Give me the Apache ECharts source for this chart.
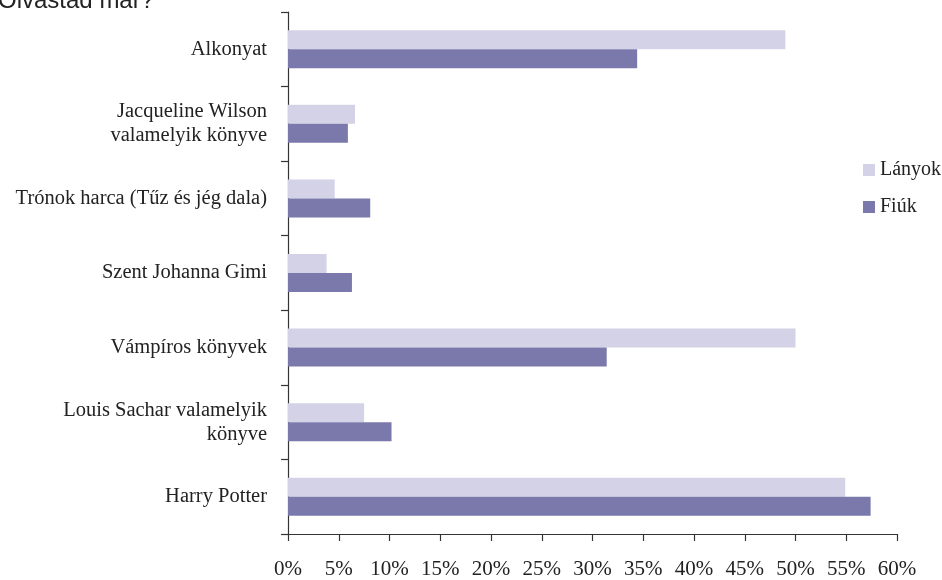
<!DOCTYPE html>
<html>
<head>
<meta charset="utf-8">
<script src="https://cdn.jsdelivr.net/npm/echarts@6/dist/echarts.min.js"></script>
<style>
html,body{margin:0;padding:0;background:#fff;}
#chart{width:942px;height:580px;}
</style>
</head>
<body>
<div id="chart"></div>
<script>
// Categories, top to bottom
const categories = [
  'Alkonyat',
  'Jacqueline Wilson\nvalamelyik könyve',
  'Trónok harca (Tűz és jég dala)',
  'Szent Johanna Gimi',
  'Vámpíros könyvek',
  'Louis Sachar valamelyik\nkönyve',
  'Harry Potter'
];
const seriesNames = ['Lányok', 'Fiúk'];
const lanyok = [49.0, 6.6, 4.6, 3.8, 50.0, 7.5, 54.9];
const fiuk = [34.4, 5.9, 8.1, 6.3, 31.4, 10.2, 57.4];
const xTicks = { min: 0, max: 60, interval: 5 };
const titleText = 'Olvastad már?';

const serif = '"Liberation Serif", "DejaVu Serif", serif';
const chart = echarts.init(document.getElementById('chart'), null, { renderer: 'canvas' });
chart.setOption({
  animation: false,
  backgroundColor: '#ffffff',
  title: {
    text: titleText,
    left: -2,
    top: -11,
    padding: 0,
    textStyle: { fontFamily: '"Liberation Sans", Arial, sans-serif', fontSize: 24, fontWeight: 'normal', color: '#222' }
  },
  legend: {
    data: seriesNames,
    orient: 'vertical',
    left: 863,
    top: 160,
    padding: 0,
    icon: 'rect',
    itemWidth: 12,
    itemHeight: 12,
    itemGap: 17,
    textStyle: { fontFamily: serif, fontSize: 20, color: '#222' }
  },
  grid: { left: 288, right: 45, top: 12, bottom: 45, containLabel: false },
  xAxis: {
    type: 'value',
    min: xTicks.min,
    max: xTicks.max,
    interval: xTicks.interval,
    axisLine: { show: true, lineStyle: { color: '#333', width: 1.2 } },
    axisTick: { show: true, length: 7, lineStyle: { color: '#333', width: 1.2 } },
    splitLine: { show: false },
    axisLabel: { formatter: '{value}%', fontFamily: serif, fontSize: 21, color: '#222', margin: 25 }
  },
  yAxis: {
    type: 'category',
    inverse: true,
    data: categories,
    axisLine: { show: true, lineStyle: { color: '#333', width: 1.2 } },
    axisTick: { show: true, length: 7, lineStyle: { color: '#333', width: 1.2 } },
    axisLabel: { fontFamily: serif, fontSize: 20.5, color: '#222', margin: 21, lineHeight: 24, align: 'right' }
  },
  series: [
    { name: seriesNames[0], type: 'bar', data: lanyok, barWidth: 19, barGap: '0%', itemStyle: { color: '#d3d2e6' } },
    { name: seriesNames[1], type: 'bar', data: fiuk, barWidth: 19, barGap: '0%', itemStyle: { color: '#7b79ab' } }
  ]
});
</script>
</body>
</html>
